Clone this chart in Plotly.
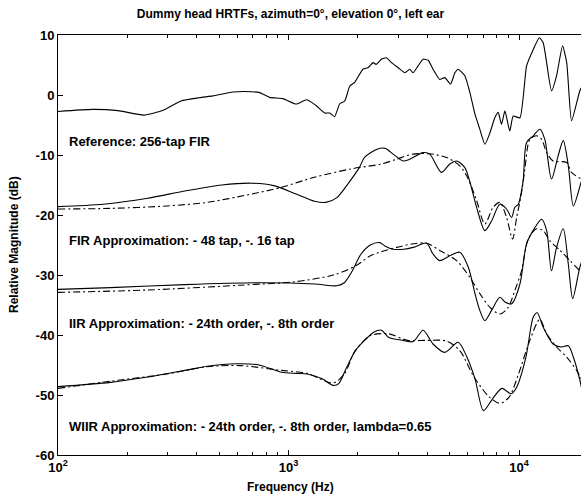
import plotly.graph_objects as go

# ---------------- data (Hz, dB) ----------------
ref_f = [100, 141, 182, 236, 284, 342, 411, 470, 574, 692, 750, 828, 946, 1081, 1197,
         1321, 1435, 1510, 1585, 1667, 1754, 1845, 1936, 2104, 2213, 2328, 2399, 2529,
         2661, 2799, 2992, 3199, 3357, 3467, 3648, 3837, 4036, 4236, 4529, 4764, 5047,
         5272, 5445, 5821, 6124, 6442, 6761, 7112, 7482, 7852, 8128, 8395, 8690, 9120,
         9441, 10093, 10789, 11535, 12246, 12735, 13836, 14555, 15453, 16106, 16904,
         18365, 18836]
ref_db = [-2.75, -2.4, -2.6, -3.35, -2.6, -1.0, -0.45, -0.15, 0.5, 0.55, 0.4, -0.4, -0.6,
          -1.5, -0.8, -1.8, -3.0, -3.0, -3.6, -1.5, -1.0, 1.5, 2.1, 4.3, 4.55, 5.4, 5.1,
          5.95, 6.2, 5.4, 4.55, 3.7, 4.3, 3.7, 4.85, 5.95, 5.8, 4.3, 2.6, 2.9, 1.8, 3.7,
          4.3, 3.2, 0.4, -3.2, -5.7, -8.2, -6.3, -3.8, -2.9, -4.9, -2.65, -6.0, -3.5,
          -3.8, 4.85, 7.6, 9.55, 8.7, 0.7, 3.2, 8.2, 5.4, -4.3, 0.7, 1.5]

fir48_f = [100, 157, 245, 355, 514, 692, 863, 1079, 1297, 1452, 1622, 1811, 2028, 2138,
           2438, 2630, 2844, 3141, 3357, 3837, 4102, 4603, 5012, 5370, 5821, 6124, 6546,
           7112, 7603, 8260, 8831, 9290, 9594, 9931, 10423, 10789, 11535, 12331, 12942,
           13836, 14791, 15560, 16368, 17219, 18578, 19055]
fir48_db = [-18.6, -18.2, -17.2, -16.0, -15.0, -14.7, -15.1, -16.5, -17.7, -17.9, -17.1,
            -14.8, -12.1, -10.4, -9.0, -8.9, -9.85, -11.0, -10.7, -9.6, -9.85, -12.9,
            -11.5, -11.0, -12.1, -14.5, -18.7, -22.6, -21.0, -18.2, -19.0, -20.4, -18.7,
            -18.2, -14.3, -7.9, -6.8, -5.7, -7.4, -14.0, -10.1, -7.6, -11.8, -18.5,
            -14.6, -13.5]

fir16_f = [100, 169, 295, 444, 692, 931, 1297, 1879, 2529, 2944, 3467, 4102, 4842, 5534,
           6026, 6546, 7112, 7727, 8260, 8831, 9376, 9772, 10233, 10593, 11143, 11912,
           12531, 13183, 14060, 16106, 16904, 18578, 19055]
fir16_db = [-19.0, -18.9, -18.5, -17.9, -16.5, -15.4, -13.7, -12.3, -11.5, -10.7, -9.85,
            -9.8, -10.4, -11.8, -14.0, -17.6, -21.5, -18.7, -17.9, -20.4, -24.0, -20.4,
            -16.5, -12.5, -7.4, -6.8, -7.4, -9.6, -11.0, -11.25, -12.9, -14.0, -14.3]

iir24_f = [100, 169, 355, 745, 1297, 1622, 1746, 1879, 2065, 2265, 2489, 2630, 2844,
           3162, 3475, 3972, 4236, 4529, 5012, 5534, 6026, 6442, 6761, 7112, 7603, 8260,
           8690, 9290, 10093, 10789, 11722, 12531, 13183, 13836, 14555, 15560, 16368,
           17100, 18365, 19055]
iir24_db = [-32.4, -32.1, -31.6, -31.3, -31.5, -31.8, -31.3, -29.5, -26.5, -25.0, -24.6,
            -25.2, -25.7, -25.7, -25.4, -24.7, -26.5, -27.6, -26.8, -26.2, -28.7, -33.1,
            -35.9, -37.6, -35.9, -33.7, -34.5, -34.8, -31.5, -24.8, -22.1, -20.7, -22.6,
            -29.3, -25.4, -22.3, -28.2, -33.9, -28.7, -27.0]

iir8_f = [100, 245, 617, 1079, 1563, 1950, 2265, 2489, 2944, 3475, 3972, 4529, 5358,
          6124, 6761, 7482, 8260, 8974, 9594, 10257, 10965, 11912, 12735, 13614, 15066,
          16634, 18365, 19055]
iir8_db = [-32.9, -32.5, -31.7, -31.1, -30.0, -28.5, -26.8, -26.2, -25.4, -24.8, -24.7,
           -25.9, -27.6, -30.4, -33.1, -35.4, -36.5, -35.4, -32.6, -29.3, -24.0, -22.3,
           -22.6, -24.3, -25.9, -27.6, -29.3, -29.9]

wiir24_f = [100, 169, 245, 355, 444, 597, 745, 931, 1079, 1205, 1400, 1563, 1652, 1778,
            1950, 2138, 2350, 2529, 2723, 3041, 3475, 3837, 4236, 4764, 5445, 5916, 6442,
            7015, 7691, 8433, 9247, 9772, 10715, 11535, 11995, 12735, 14060, 15276, 16368,
            17219, 18365, 19055]
wiir24_db = [-48.6, -47.9, -47.0, -45.9, -45.2, -44.8, -45.0, -46.2, -46.4, -46.5, -47.3,
             -48.4, -48.1, -45.6, -42.6, -40.9, -39.5, -39.2, -40.4, -40.8, -41.1, -39.2,
             -41.5, -42.9, -41.2, -43.5, -47.3, -52.6, -50.6, -48.9, -49.8, -48.7, -43.7,
             -37.0, -36.3, -38.7, -41.5, -42.0, -41.8, -43.7, -47.5, -50.5]

wiir8_f = [100, 169, 295, 444, 617, 931, 1205, 1563, 1746, 1950, 2265, 2723, 3281, 3945,
           4842, 5534, 6383, 7413, 8279, 9078, 9954, 11143, 12303, 13183, 14555, 16106,
           17783, 19055]
wiir8_db = [-48.9, -47.7, -46.5, -45.3, -45.1, -45.9, -46.4, -48.0, -46.5, -42.6, -40.1,
            -39.8, -40.9, -40.9, -41.0, -42.6, -47.0, -50.3, -51.4, -50.3, -46.5, -40.9,
            -37.4, -39.8, -42.0, -43.7, -45.9, -48.0]

x_tick_vals = [100, 1000, 10000]
x_tick_text = ["10<sup>2</sup>", "10<sup>3</sup>", "10<sup>4</sup>"]
x_minor_vals = [200, 300, 400, 500, 600, 700, 800, 900, 2000, 3000, 4000, 5000, 6000,
                7000, 8000, 9000]
y_tick_vals = [10, 0, -10, -20, -30, -40, -50, -60]

labels = ["Reference: 256-tap FIR",
          "FIR Approximation: - 48 tap, -. 16 tap",
          "IIR Approximation: - 24th order, -. 8th order",
          "WIIR Approximation: - 24th order, -. 8th order, lambda=0.65"]
label_db = [-7.7, -24.2, -38.0, -55.3]

# ---------------- figure ----------------
FONT = "Liberation Sans, Arial, sans-serif"
DASHDOT = "7px,3px,2px,3px"

fig = go.Figure()

series = [
    (ref_f, ref_db, "solid", 0.5),
    (fir48_f, fir48_db, "solid", 0.8),
    (fir16_f, fir16_db, DASHDOT, 0.8),
    (iir24_f, iir24_db, "solid", 0.8),
    (iir8_f, iir8_db, DASHDOT, 0.8),
    (wiir24_f, wiir24_db, "solid", 0.8),
    (wiir8_f, wiir8_db, DASHDOT, 0.8),
]
for f, db, dash, sm in series:
    fig.add_trace(go.Scatter(
        x=f, y=db, mode="lines",
        line=dict(color="black", width=1.1, dash=dash, shape="spline", smoothing=sm),
        showlegend=False, hoverinfo="skip"))

fig.update_layout(
    width=581, height=496,
    margin=dict(l=58, r=0, t=35, b=41),
    paper_bgcolor="white", plot_bgcolor="white",
    font=dict(family=FONT, size=12, color="black"),
    title=dict(text="<b>Dummy head HRTFs, azimuth=0°, elevation 0°, left ear</b>",
               x=0.5, xref="container", xanchor="center",
               y=1 - 14 / 496, yref="container", yanchor="middle",
               font=dict(family=FONT, size=12, color="black")),
    xaxis=dict(type="log", range=[2, 4.269], showgrid=False, zeroline=False,
               showline=True, linecolor="black", linewidth=1, mirror="ticks",
               ticks="inside", ticklen=5, tickcolor="black",
               tickvals=x_tick_vals, ticktext=["<b>" + t + "</b>" for t in x_tick_text],
               tickfont=dict(family=FONT, size=13, color="black"),
               minor=dict(ticks="inside", ticklen=3, tickcolor="black",
                          tickvals=x_minor_vals, showgrid=False)),
    yaxis=dict(range=[-60, 10], showgrid=False, zeroline=False,
               showline=True, linecolor="black", linewidth=1,
               ticks="inside", ticklen=5, tickcolor="black",
               tickvals=y_tick_vals, ticktext=["<b>%d</b>" % v for v in y_tick_vals],
               tickfont=dict(family=FONT, size=13, color="black")),
)

annotations = []
for txt, yv in zip(labels, label_db):
    annotations.append(dict(text="<b>" + txt + "</b>", x=(67 - 58) / 523, xref="paper",
                            xanchor="left", y=yv, yref="y", yanchor="middle",
                            showarrow=False,
                            font=dict(family=FONT, size=13, color="black")))
annotations.append(dict(text="<b>Frequency (Hz)</b>", x=(290 - 58) / 523, xref="paper",
                        xanchor="center", y=(455 - 487) / 420, yref="paper",
                        yanchor="middle", showarrow=False,
                        font=dict(family=FONT, size=12, color="black")))
annotations.append(dict(text="<b>Relative Magnitude (dB)</b>", x=(14 - 58) / 523,
                        xref="paper", xanchor="center", y=0.5, yref="paper",
                        yanchor="middle", textangle=-90, showarrow=False,
                        font=dict(family=FONT, size=12, color="black")))
fig.update_layout(annotations=annotations)

fig.write_html("out.html",
               config={"displayModeBar": False, "staticPlot": True},
               post_script="document.body.style.margin='0';"
                           "document.body.style.overflow='hidden';")
